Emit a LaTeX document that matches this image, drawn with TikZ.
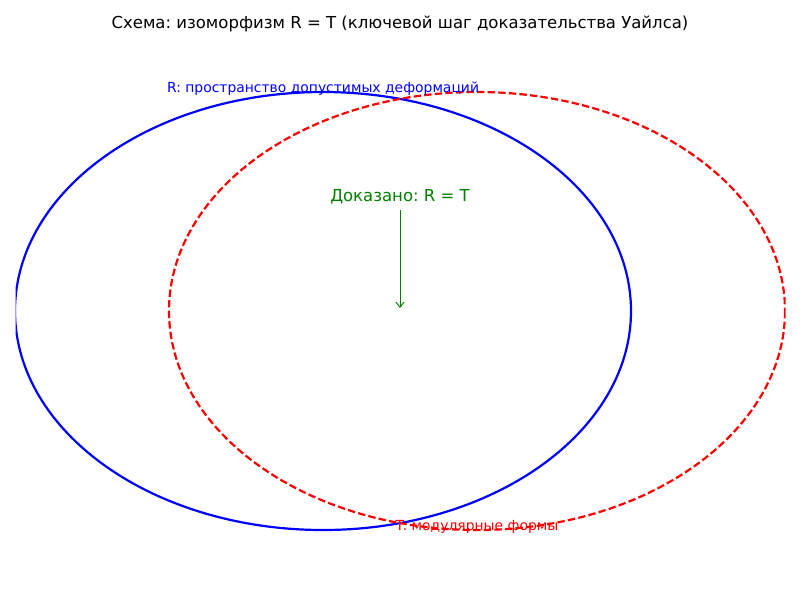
\documentclass[tikz,border=0pt]{standalone}
\usepackage{fontspec}
\setmainfont{DejaVu Sans}
\usetikzlibrary{arrows.meta}
\definecolor{mplgreen}{RGB}{0,128,0}
\frenchspacing
\tikzset{
  setR/.style={draw=blue, line width=2.2pt},
  setT/.style={draw=red, line width=2.2pt, dash pattern=on 7.4pt off 3.2pt},
  lbl/.style={inner sep=0pt, font=\fontsize{13.9}{16}\selectfont},
  bigtxt/.style={inner sep=0pt, font=\fontsize{16.5}{19}\selectfont},
}
\begin{document}
\begin{tikzpicture}[x=1pt,y=-1pt]
\useasboundingbox[fill=white] (0,0) rectangle (800,600);
\node[bigtxt] (title) at (400,24) {Схема: изоморфизм R = T (ключевой шаг доказательства Уайлса)};
\begin{scope}
\clip (15.5,0) rectangle (785.5,600);
\draw[setR] (323,311) ellipse [x radius=308, y radius=219];
\draw[setT] (477,311) ellipse [x radius=308, y radius=219];
\end{scope}
\node[lbl, text=blue] (rlabel) at (323,88.5) {R: пространство допустимых деформаций};
\node[lbl, text=red] (tlabel) at (477,526.5) {T: модулярные формы};
\node[bigtxt, text=mplgreen] (proved) at (400,197) {Доказано: R = T};
\coordinate (centre) at (400,308);
\draw[mplgreen, line width=1pt, -{Straight Barb[length=5pt,width=8pt]}] (400,210) -- (centre);
\end{tikzpicture}
\end{document}
